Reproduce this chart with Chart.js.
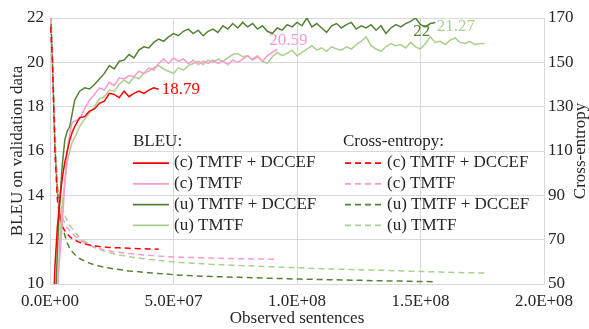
<!DOCTYPE html>
<html>
<head>
<meta charset="utf-8">
<script src="https://cdn.jsdelivr.net/npm/chart.js@4.4.1/dist/chart.umd.min.js"></script>
<style>
  html, body { margin: 0; padding: 0; background: #fff; }
  #wrap { width: 589px; height: 329px; position: relative; }
</style>
</head>
<body>
<div id="wrap"><canvas id="chart"></canvas></div>
<script>
// observed sentences (millions) for the BLEU checkpoints
const bleuSentencesM = [0.3, 1, 2, 3, 4, 5, 6, 7, 8, 9, 10,
  12, 14, 16, 18, 20, 22, 24, 26, 28, 30,
  32, 34, 36, 38, 40, 42, 44, 46, 48, 50,
  52, 54, 56, 58, 60, 62, 64, 66, 68, 70,
  72, 74, 76, 78, 80, 82, 84, 86, 88, 90,
  92, 94, 96, 98, 100, 102, 104, 106, 108, 110,
  112, 114, 116, 118, 120, 122, 124, 126, 128, 130,
  132, 134, 136, 138, 140, 142, 144, 146, 148, 150,
  152, 154, 156, 158, 160, 162, 164, 166, 168, 170,
  172, 174, 176];

// observed sentences (millions) for the cross-entropy points
const ceSentencesM = [0.3, 1, 2, 3, 4, 5, 6, 7, 8, 9, 10,
  12, 14, 16, 18, 20, 22, 24, 26, 28, 30, 32, 34, 36, 38, 40, 42, 44,
  47, 50, 53, 56, 59, 62, 65, 68, 71, 74, 77, 80, 83, 86, 89, 92, 95, 98,
  101, 104, 107, 110, 113, 116, 119, 122, 125, 128, 131, 134, 137, 140, 143, 146, 149, 152, 155,
  158, 161, 164, 167, 170, 173, 176];

// BLEU on validation data
const bleuCDccef = [4, 7.5, 10.8, 12.6, 13.8, 14.8, 15.5, 16.0, 16.5, 16.85, 17.1,
  17.5, 17.55, 17.8, 17.9, 18.15, 18.25, 18.6, 18.55, 18.4, 18.7,
  18.45, 18.6, 18.7, 18.6, 18.75, 18.85, 18.79];
const bleuC = [2, 4, 7, 9.9, 11.3, 12.8, 14.6, 16.0, 16.8, 17.3, 17.35,
  17.45, 17.9, 18.3, 18.55, 18.85, 18.75, 19.1, 18.95, 19.3, 19.25,
  19.4, 19.35, 19.6, 19.5, 19.75, 19.65, 19.95, 20.15, 19.95, 20.2,
  20.05, 20.15, 19.95, 20.1, 19.9, 20.05, 19.95, 20.1, 19.95, 20.05,
  19.9, 20.1, 20.0, 20.15, 20.3, 20.1, 20.25, 20.05, 20.3, 20.45,
  20.59];
const bleuUDccef = [3, 5, 8.5, 11.5, 13.8, 15.4, 16.5, 16.9, 17.1, 17.7, 18.3,
  18.7, 18.85, 18.8, 19.0, 19.25, 19.5, 19.85, 19.7, 20.05, 20.1,
  20.35, 20.2, 20.55, 20.7, 20.65, 20.9, 21.05, 20.95, 21.15, 21.3,
  21.2, 21.4, 21.5, 21.3, 21.45, 21.2, 21.4, 21.5, 21.35, 21.65,
  21.5, 21.75, 21.55, 21.8, 21.6, 21.75, 21.5, 21.65, 21.4, 21.3,
  21.55, 21.45, 21.7, 21.6, 21.8, 21.65, 22.0, 21.6, 21.75, 21.55,
  21.35, 21.65, 21.75, 21.55, 21.7, 21.8, 21.5, 21.65, 21.55, 21.7,
  21.45, 21.65, 21.3, 21.55, 21.7, 21.6, 21.75, 21.85, 22.0, 21.7,
  21.6, 21.75, 21.8];
const bleuU = [1, 3, 6, 9.5, 12, 13.6, 14.6, 15.5, 16.0, 16.4, 16.6,
  17.1, 17.45, 17.7, 18.0, 18.35, 18.45, 18.75, 18.7, 19.0, 19.2,
  19.05, 19.35, 19.25, 19.5, 19.6, 19.75, 19.85, 19.7, 19.6, 19.5,
  19.75, 19.65, 19.85, 19.95, 20.05, 19.9, 20.1, 20.0, 20.15, 20.05,
  20.2, 20.35, 20.4, 20.25, 20.3, 20.15, 20.3, 20.05, 19.95, 20.25,
  20.45, 20.3, 20.4, 20.55, 20.3, 20.45, 20.6, 20.75, 20.55, 20.65,
  20.5, 20.7, 20.6, 20.55, 20.7, 20.6, 20.8, 20.95, 21.15, 20.75,
  20.6, 20.5, 20.7, 20.85, 20.75, 20.8, 20.65, 20.9, 20.7, 20.6,
  20.85, 21.15, 20.9, 20.95, 20.8, 21.0, 21.1, 20.9, 20.85, 20.95,
  20.8, 20.85, 20.85];

// Cross-entropy
const ceCDccef = [166, 150, 110, 88, 80, 76, 74, 72.5, 71.3, 70.5, 69.8,
  68.8, 68.1, 67.6, 67.2, 66.9, 66.7, 66.5, 66.4, 66.3, 66.2, 66.1, 66.0, 65.9, 65.9, 65.8, 65.8, 65.7];
const ceC = [170, 150, 112, 90, 83, 80, 77.5, 75.5, 74, 72.8, 71.8,
  70, 68.5, 67.5, 66.6, 66, 65.4, 65, 64.6, 64.3, 64, 63.8, 63.5, 63.3, 63.1, 63, 62.8, 62.6,
  62.4, 62.2, 62.1, 62, 61.9, 61.8, 61.7, 61.6, 61.5, 61.5, 61.4, 61.4, 61.3, 61.3, 61.2, 61.2];
const ceUDccef = [172, 150, 112, 92, 82, 76, 72, 68.5, 66, 64.5, 63.3,
  61.5, 60.3, 59.4, 58.7, 58.1, 57.6, 57.2, 56.8, 56.5, 56.2, 55.9, 55.7, 55.5, 55.3, 55.1, 54.9, 54.7,
  54.5, 54.2, 54, 53.8, 53.6, 53.5, 53.4, 53.3, 53.2, 53.1, 53.0, 52.9, 52.8, 52.7, 52.6, 52.5, 52.4, 52.3,
  52.2, 52.1, 52.1, 52, 51.9, 51.9, 51.8, 51.7, 51.7, 51.6, 51.5, 51.5, 51.4, 51.3, 51.3, 51.2, 51.1, 51.1, 51.0];
const ceU = [175, 155, 118, 95, 88, 84, 81, 78.5, 76.5, 75, 73.5,
  71, 69.2, 67.8, 66.6, 65.6, 64.8, 64.2, 63.6, 63.1, 62.7, 62.3, 62, 61.7, 61.4, 61.1, 60.9, 60.6,
  60.3, 60, 59.7, 59.5, 59.3, 59.1, 58.9, 58.8, 58.6, 58.5, 58.3, 58.2, 58.1, 57.9, 57.8, 57.7, 57.6, 57.4,
  57.3, 57.2, 57.0, 56.9, 56.8, 56.7, 56.6, 56.5, 56.4, 56.3, 56.3, 56.2, 56.1, 56, 55.9, 55.8, 55.7, 55.6, 55.5,
  55.4, 55.3, 55.2, 55.1, 55.1, 55, 55];

const seriesNames = ['(c) TMTF + DCCEF', '(c) TMTF', '(u) TMTF + DCCEF', '(u) TMTF'];
const endLabels = ['18.79', '20.59', '22', '21.27'];
const colors = ['#ff0000', '#ff99cc', '#548235', '#a9d08e'];

const FONT = '"Liberation Serif", "Times New Roman", serif';
const TEXT = '#262626';
const GRID = '#d9d9d9';

function pts(xs, vals) {
    return vals.map((v, i) => ({ x: xs[i] * 1e6, y: v }));
}

function fmtSci(v) {
    const [m, e] = v.toExponential(1).split('e');
    const sign = e[0] === '-' ? '-' : '+';
    const digits = e.replace(/[+-]/, '').padStart(2, '0');
    return m + 'E' + sign + digits;
}

const bleuSets = [bleuCDccef, bleuC, bleuUDccef, bleuU];
const ceSets = [ceCDccef, ceC, ceUDccef, ceU];

// label offsets (relative to last point)
const labelOffsets = [[3, 0], [-8, -9], [-22, 9], [-48, -17]];

const datasets = [];
bleuSets.forEach((vals, i) => {
    datasets.push({
        label: seriesNames[i],
        data: pts(bleuSentencesM, vals),
        yAxisID: 'y',
        borderColor: colors[i],
        borderWidth: 1.5,
        pointRadius: 0,
        tension: 0,
        endLabel: endLabels[i],
        labelOffset: labelOffsets[i]
    });
});
ceSets.forEach((vals, i) => {
    datasets.push({
        label: seriesNames[i],
        data: pts(ceSentencesM, vals),
        yAxisID: 'y1',
        borderColor: colors[i],
        borderWidth: 1.5,
        borderDash: [6, 4],
        pointRadius: 0,
        tension: 0
    });
});

// axis titles, legend and end labels drawn by hand
const decorPlugin = {
    id: 'decor',
    afterDraw(chart) {
        const ctx = chart.ctx;
        const area = chart.chartArea;
        ctx.save();
        ctx.font = '17px ' + FONT;
        ctx.fillStyle = TEXT;
        ctx.textBaseline = 'middle';

        // axis titles
        const midY = (area.top + area.bottom) / 2;
        ctx.textAlign = 'center';
        ctx.save();
        ctx.translate(17.5, midY);
        ctx.rotate(-Math.PI / 2);
        ctx.fillText('BLEU on validation data', 0, 0);
        ctx.restore();
        ctx.save();
        ctx.translate(581, midY);
        ctx.rotate(-Math.PI / 2);
        ctx.fillText('Cross-entropy', 0, 0);
        ctx.restore();
        ctx.fillText('Observed sentences', (area.left + area.right) / 2, 319);

        // legend
        ctx.textAlign = 'left';
        ctx.fillText('BLEU:', 133, 142);
        ctx.fillText('Cross-entropy:', 343, 142);
        for (let i = 0; i < 4; i++) {
            const y = 163 + i * 20.8;
            const solid = chart.data.datasets[i];
            const dashed = chart.data.datasets[i + 4];
            ctx.lineWidth = 1.75;
            ctx.strokeStyle = solid.borderColor;
            ctx.setLineDash([]);
            ctx.beginPath(); ctx.moveTo(133, y); ctx.lineTo(169, y); ctx.stroke();
            ctx.strokeStyle = dashed.borderColor;
            ctx.setLineDash(dashed.borderDash);
            ctx.beginPath(); ctx.moveTo(345, y); ctx.lineTo(381, y); ctx.stroke();
            ctx.setLineDash([]);
            ctx.fillStyle = TEXT;
            ctx.fillText(solid.label, 174, y);
            ctx.fillText(dashed.label, 387, y);
        }

        // end labels
        chart.data.datasets.forEach((ds, i) => {
            if (!ds.endLabel) return;
            const meta = chart.getDatasetMeta(i);
            const last = meta.data[meta.data.length - 1];
            const [dx, dy] = ds.labelOffset;
            ctx.fillStyle = ds.borderColor;
            ctx.fillText(ds.endLabel, last.x + dx, last.y + dy);
        });
        ctx.restore();
    }
};

new Chart(document.getElementById('chart'), {
    type: 'line',
    data: { datasets },
    options: {
        responsive: true,
        maintainAspectRatio: false,
        animation: false,
        layout: { padding: { top: 18, left: 0, right: 0, bottom: 0 } },
        plugins: { legend: { display: false }, tooltip: { enabled: false } },
        scales: {
            x: {
                type: 'linear',
                min: 0,
                max: 2e8,
                afterFit: s => { s.height = 45; },
                ticks: {
                    stepSize: 5e7,
                    padding: 7,
                    color: TEXT,
                    font: { family: FONT, size: 17 },
                    maxRotation: 0,
                    callback: v => fmtSci(v)
                },
                grid: { color: GRID, drawTicks: false },
                border: { color: GRID }
            },
            y: {
                position: 'left',
                min: 10,
                max: 22,
                afterFit: s => { s.width = 50; },
                ticks: {
                    stepSize: 2,
                    padding: 6,
                    color: TEXT,
                    font: { family: FONT, size: 17 }
                },
                grid: { color: GRID, drawTicks: false },
                border: { color: GRID }
            },
            y1: {
                position: 'right',
                min: 50,
                max: 170,
                afterFit: s => { s.width = 45; },
                ticks: {
                    stepSize: 20,
                    padding: 4,
                    color: TEXT,
                    font: { family: FONT, size: 17 }
                },
                grid: { drawOnChartArea: false, drawTicks: false },
                border: { color: GRID }
            }
        }
    },
    plugins: [decorPlugin]
});
</script>
</body>
</html>
